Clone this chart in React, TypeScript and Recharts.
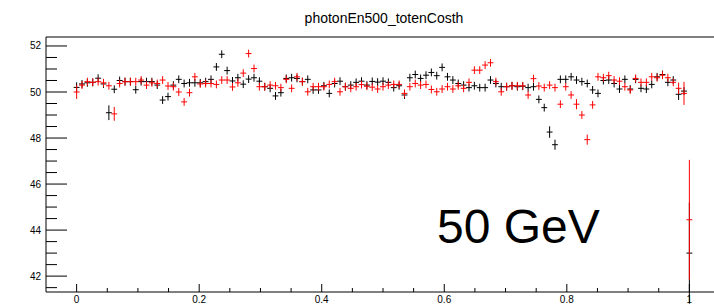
import React from 'react';
import { ScatterChart, Scatter, XAxis, YAxis, ErrorBar, ReferenceLine } from 'recharts';

// bins run from 0 to 1, one point per bin edge step
const BIN_COUNT = 114;

const blackValues = [
  50.2, 50.35, 50.4, 50.42, 50.6, 50.35, 49.1, 50.12, 50.5, 50.45,
  50.45, 50.1, 50.45, 50.45, 50.45, 50.3, 49.65, 49.8, 50.3, 50.55,
  50.37, 50.4, 50.4, 50.4, 50.45, 50.55, 51.09, 51.64, 50.93, 50.48,
  50.62, 50.34, 50.56, 50.62, 50.47, 50.23, 50.16, 49.83, 49.97, 50.59,
  50.62, 50.59, 50.45, 50.55, 50.09, 50.09, 50.27, 49.94, 50.37, 50.47,
  50.23, 50.3, 50.42, 50.47, 50.3, 50.46, 50.43, 50.47, 50.42, 50.19,
  50.27, 49.87, 50.62, 50.76, 50.59, 50.73, 50.85, 50.71, 51.07, 50.66,
  50.52, 50.37, 50.3, 50.19, 50.27, 50.19, 50.19, 50.52, 50.37, 50.23,
  50.23, 50.27, 50.23, 50.25, 50.19, 50.23, 49.68, 49.32, 48.26, 47.71,
  50.55, 50.55, 50.66, 50.52, 50.45, 50.37, 50.09, 49.94, 50.5, 50.52,
  50.37, 50.13, 50.55, 50.13, 50.55, 50.16, 50.13, 50.33, 50.66, 50.76,
  50.42, 50.52, 49.9, 50.04, 43.0,
];

const redValues = [
  50.0, 50.3, 50.45, 50.42, 50.45, 50.4, 50.27, 49.05, 50.37, 50.45,
  50.45, 50.45, 50.52, 50.3, 50.4, 50.37, 50.52, 50.26, 50.23, 50.0,
  49.57, 49.97, 50.66, 50.35, 50.37, 50.37, 50.33, 50.52, 50.52, 50.22,
  50.4, 50.82, 51.67, 51.02, 50.23, 50.23, 50.3, 50.27, 50.19, 50.55,
  50.16, 50.66, 50.45, 50.01, 50.23, 50.23, 50.23, 50.33, 50.45, 50.01,
  50.23, 50.16, 50.23, 50.32, 50.25, 50.21, 50.13, 50.23, 50.3, 50.33,
  50.33, 49.94, 50.23, 50.37, 50.3, 50.33, 50.11, 50.01, 50.13, 50.23,
  50.13, 50.27, 50.16, 50.42, 50.95, 50.95, 51.17, 51.27, 50.45, 50.01,
  50.23, 50.27, 50.27, 50.27, 49.87, 50.58, 50.26, 50.19, 50.3, 50.19,
  49.47, 50.23, 49.87, 49.47, 49.0, 47.93, 49.44, 50.66, 50.62, 50.71,
  50.52, 50.47, 50.23, 50.09, 50.59, 50.42, 50.42, 50.66, 50.62, 50.73,
  50.62, 50.42, 50.16, 49.94, 44.45,
];

// typical vertical error, plus the bins where it is clearly larger
const BASE_ERR = 0.17;
const blackBigErrors: Record<number, number> = { 0: 0.22, 6: 0.32, 88: 0.25, 89: 0.22, 112: 0.25, 114: 2.2 };
const redBigErrors: Record<number, number> = { 0: 0.3, 7: 0.3, 93: 0.22, 95: 0.22, 112: 0.25, 113: 0.5, 114: 2.6 };
const HALF_BIN = 0.0048;

const xTicks = [0, 0.05, 0.1, 0.15, 0.2, 0.25, 0.3, 0.35, 0.4, 0.45, 0.5, 0.55, 0.6, 0.65, 0.7, 0.75, 0.8, 0.85, 0.9, 0.95, 1];
const xMajor = [0, 0.2, 0.4, 0.6, 0.8, 1];
const yTicks = [41.5, 42, 42.5, 43, 43.5, 44, 44.5, 45, 45.5, 46, 46.5, 47, 47.5, 48, 48.5, 49, 49.5, 50, 50.5, 51, 51.5, 52];
const yMajor = [42, 44, 46, 48, 50, 52];

const X_MIN = -0.05;
const X_MAX = 1.05;
const Y_MIN = 41.31;
const Y_MAX = 52.39;

const FONT = '"Liberation Sans", Arial, Helvetica, sans-serif';

const toPoints = (values: number[], big: Record<number, number>) =>
  values.map((v, i) => ({
    x: i / BIN_COUNT,
    y: v,
    ey: big[i] ?? BASE_ERR,
    ex: HALF_BIN,
  }));

const blackPoints = toPoints(blackValues, blackBigErrors);
const redPoints = toPoints(redValues, redBigErrors);

const isMajor = (list: number[], v: number) => list.some(m => Math.abs(m - v) < 1e-6);

const XTick = (props: any) => {
  const { x, y, payload } = props;
  const major = isMajor(xMajor, payload.value);
  return (
    <g>
      <line x1={x} x2={x} y1={y} y2={y - (major ? 8 : 4)} stroke="#000" strokeWidth={1} />
      {major && (
        <text x={x} y={y + 11} textAnchor="middle" fontSize={10} fontFamily={FONT} fill="#000">
          {String(payload.value)}
        </text>
      )}
    </g>
  );
};

const YTick = (props: any) => {
  const { x, y, payload } = props;
  const major = isMajor(yMajor, payload.value);
  return (
    <g>
      <line x1={x} x2={x + (major ? 21 : 11)} y1={y} y2={y} stroke="#000" strokeWidth={1} />
      {major && (
        <text x={x - 5} y={y + 3.5} textAnchor="end" fontSize={10} fontFamily={FONT} fill="#000">
          {String(payload.value)}
        </text>
      )}
    </g>
  );
};

const NoMark = () => <g />;

export default function App() {
  return (
    <div style={{ position: 'fixed', left: 0, top: 0, width: 714, height: 305, overflow: 'hidden', background: '#fff' }}>
      <ScatterChart width={740} height={305} margin={{ top: 37, right: 20, bottom: 0, left: 0 }}>
        <XAxis
          type="number"
          dataKey="x"
          domain={[X_MIN, X_MAX]}
          ticks={xTicks}
          interval={0}
          allowDataOverflow
          tickSize={0}
          tickMargin={0}
          height={13}
          stroke="#000"
          tick={<XTick />}
        />
        <YAxis
          type="number"
          dataKey="y"
          domain={[Y_MIN, Y_MAX]}
          ticks={yTicks}
          interval={0}
          allowDataOverflow
          tickSize={0}
          tickMargin={0}
          width={46}
          stroke="#000"
          tick={<YTick />}
        />
        <ReferenceLine y={Y_MAX} stroke="#000" strokeWidth={1} />
        <Scatter data={blackPoints} shape={NoMark} fill="#000" isAnimationActive={false}>
          <ErrorBar dataKey="ey" direction="y" width={0} stroke="#000" strokeWidth={1} isAnimationActive={false} />
          <ErrorBar dataKey="ex" direction="x" width={0} stroke="#000" strokeWidth={1} isAnimationActive={false} />
        </Scatter>
        <Scatter data={redPoints} shape={NoMark} fill="#ff0000" isAnimationActive={false}>
          <ErrorBar dataKey="ey" direction="y" width={0} stroke="#ff0000" strokeWidth={1} isAnimationActive={false} />
          <ErrorBar dataKey="ex" direction="x" width={0} stroke="#ff0000" strokeWidth={1} isAnimationActive={false} />
        </Scatter>
      </ScatterChart>
      <svg width={714} height={305} style={{ position: 'absolute', left: 0, top: 0, pointerEvents: 'none' }}>
        <text x={384} y={23} textAnchor="middle" fontSize={14} fontFamily={FONT} fill="#000">
          photonEn500_totenCosth
        </text>
        <text x={437} y={243} fontSize={48} fontFamily={FONT} fill="#000">
          50 GeV
        </text>
      </svg>
    </div>
  );
}
